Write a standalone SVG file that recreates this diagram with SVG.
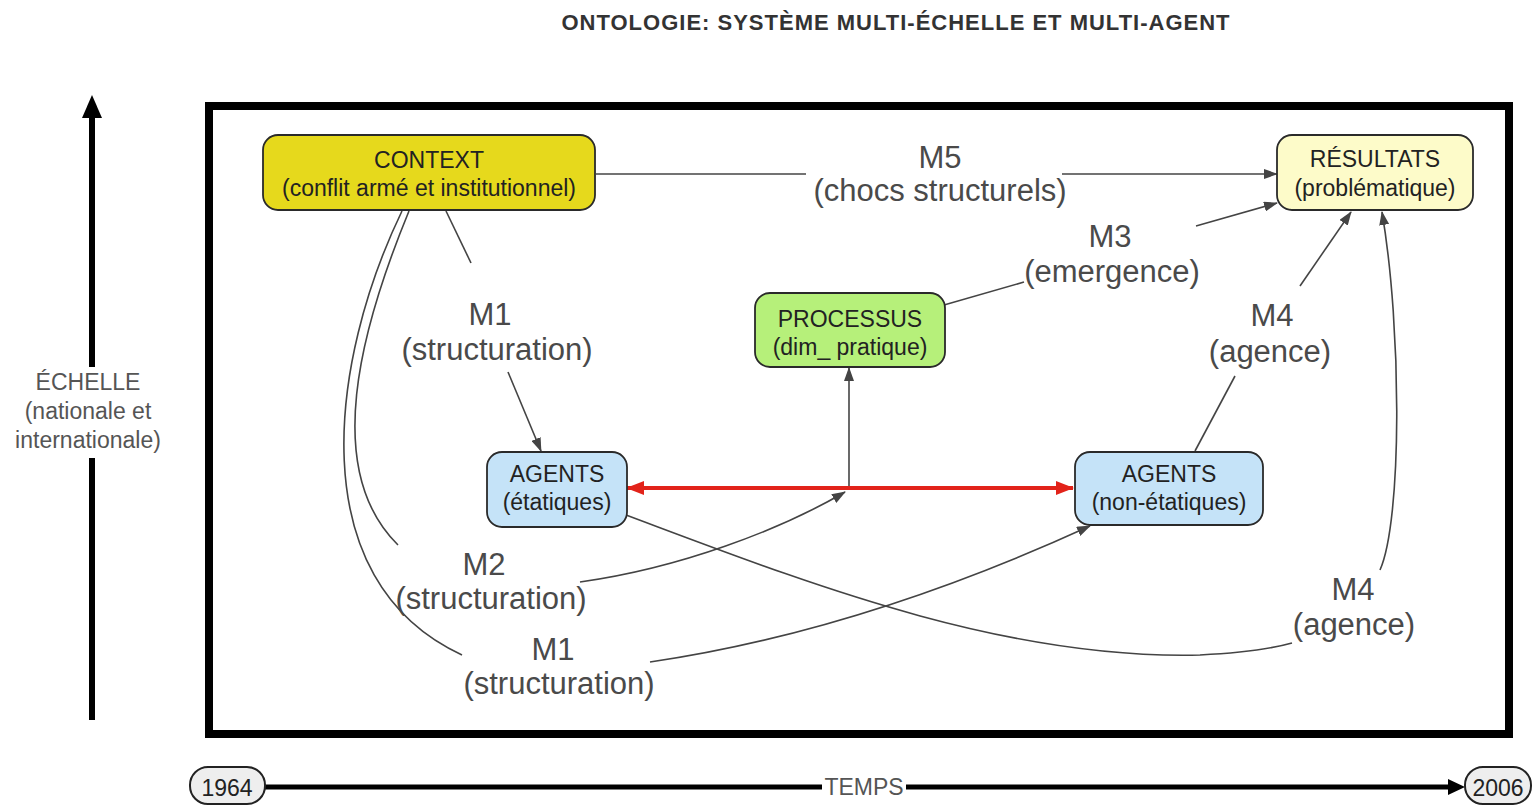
<svg xmlns="http://www.w3.org/2000/svg" width="1534" height="809" viewBox="0 0 1534 809">
<defs>
<style>
.node{stroke:#2a2a2a;stroke-width:1.8}
.nt{font-family:"Liberation Sans",Arial,sans-serif;font-size:23px;fill:#222;text-anchor:middle}
.el{font-family:"Liberation Sans",Arial,sans-serif;font-size:31px;fill:#4a4a4a;text-anchor:middle}
.ax{font-family:"Liberation Sans",Arial,sans-serif;font-size:23px;fill:#555;text-anchor:middle}
.c{fill:none;stroke:#444;stroke-width:1.6}
.pill{fill:#eeeeee;stroke:#222;stroke-width:2}
</style>
<marker id="ah" viewBox="0 0 14 10" refX="13" refY="5" markerWidth="14" markerHeight="10" markerUnits="userSpaceOnUse" orient="auto">
<path d="M0,0 L14,5 L0,10 z" fill="#444"/>
</marker>
<marker id="rh" viewBox="0 0 18 14" refX="17" refY="7" markerWidth="18" markerHeight="14" markerUnits="userSpaceOnUse" orient="auto-start-reverse">
<path d="M0,0 L18,7 L0,14 z" fill="#e2231a"/>
</marker>
</defs>
<rect width="1534" height="809" fill="#ffffff"/>

<text x="896" y="30" font-family="'Liberation Sans',Arial,sans-serif" font-size="22" font-weight="bold" fill="#333" text-anchor="middle" letter-spacing="1">ONTOLOGIE: SYSTÈME MULTI-ÉCHELLE ET MULTI-AGENT</text>

<g id="frame">
<rect x="209" y="106" width="1300" height="628" fill="none" stroke="#000" stroke-width="8"/>
</g>

<g id="axis-echelle">
<line x1="92" y1="720" x2="92" y2="458" stroke="#000" stroke-width="6"/>
<line x1="92" y1="367" x2="92" y2="115" stroke="#000" stroke-width="6"/>
<path d="M82,118 L92,95 L102,118 z" fill="#000"/>
<text class="ax" x="88" y="390">ÉCHELLE</text>
<text class="ax" x="88" y="419">(nationale et</text>
<text class="ax" x="88" y="448">internationale)</text>
</g>

<g id="axis-temps">
<line x1="265" y1="787" x2="822" y2="787" stroke="#000" stroke-width="5"/>
<line x1="906" y1="787" x2="1450" y2="787" stroke="#000" stroke-width="5"/>
<path d="M1448,779 L1465,787 L1448,795 z" fill="#000"/>
<text class="ax" x="864" y="795">TEMPS</text>
<g id="pill-1964">
<rect class="pill" x="190" y="767" width="75" height="37" rx="18"/>
<text class="ax" x="227" y="796" fill="#222" style="fill:#222">1964</text>
</g>
<g id="pill-2006">
<rect class="pill" x="1465" y="767" width="66" height="37" rx="18"/>
<text class="ax" x="1498" y="796" style="fill:#222">2006</text>
</g>
</g>

<g id="connectors">
<!-- M5 -->
<line class="c" x1="596" y1="174" x2="806" y2="174"/>
<line class="c" x1="1062" y1="174" x2="1277" y2="174" marker-end="url(#ah)"/>
<!-- M1 top -->
<line class="c" x1="446" y1="211" x2="471" y2="263"/>
<line class="c" x1="508" y1="372" x2="541" y2="451" marker-end="url(#ah)"/>
<!-- M3 -->
<line class="c" x1="944" y1="305" x2="1024" y2="282"/>
<line class="c" x1="1196" y1="226" x2="1277" y2="203" marker-end="url(#ah)"/>
<!-- M4 upper -->
<line class="c" x1="1195" y1="451" x2="1235" y2="376"/>
<line class="c" x1="1300" y1="286" x2="1351" y2="212" marker-end="url(#ah)"/>
<!-- vertical to PROCESSUS -->
<line class="c" x1="849" y1="488" x2="849" y2="368" marker-end="url(#ah)"/>
<!-- M2 -->
<path class="c" d="M409,211 C360,330 322,470 398,545"/>
<path class="c" d="M580,582 C680,568 780,530 845,492" marker-end="url(#ah)"/>
<!-- M1 lower -->
<path class="c" d="M402,211 C330,360 300,580 462,655"/>
<path class="c" d="M650,662 C800,640 950,590 1090,526" marker-end="url(#ah)"/>
<!-- M4 lower -->
<path class="c" d="M626,515 C800,580 1000,660 1200,655 Q1260,652 1292,643"/>
<path class="c" d="M1380,570 C1402,520 1402,330 1382,212" marker-end="url(#ah)"/>
<!-- red double arrow -->
<line x1="627" y1="488" x2="1073" y2="488" stroke="#e2231a" stroke-width="4" marker-start="url(#rh)" marker-end="url(#rh)"/>
</g>

<g id="edge-labels">
<text class="el" x="940" y="168">M5</text>
<text class="el" x="940" y="201">(chocs structurels)</text>
<text class="el" x="490" y="325">M1</text>
<text class="el" x="497" y="360">(structuration)</text>
<text class="el" x="1110" y="247">M3</text>
<text class="el" x="1112" y="282">(emergence)</text>
<text class="el" x="1272" y="326">M4</text>
<text class="el" x="1270" y="362">(agence)</text>
<text class="el" x="484" y="575">M2</text>
<text class="el" x="491" y="609">(structuration)</text>
<text class="el" x="553" y="660">M1</text>
<text class="el" x="559" y="694">(structuration)</text>
<text class="el" x="1353" y="600">M4</text>
<text class="el" x="1354" y="635">(agence)</text>
</g>

<g id="node-context">
<rect class="node" x="263" y="135" width="332" height="75" rx="15" fill="#e6d91c"/>
<text class="nt" x="429" y="168">CONTEXT</text>
<text class="nt" x="429" y="196">(conflit armé et institutionnel)</text>
</g>
<g id="node-resultats">
<rect class="node" x="1277" y="135" width="196" height="75" rx="15" fill="#fdfbc9"/>
<text class="nt" x="1375" y="167">RÉSULTATS</text>
<text class="nt" x="1375" y="196">(problématique)</text>
</g>
<g id="node-processus">
<rect class="node" x="755" y="293" width="190" height="74" rx="15" fill="#b6f07a"/>
<text class="nt" x="850" y="327">PROCESSUS</text>
<text class="nt" x="850" y="355">(dim_ pratique)</text>
</g>
<g id="node-agents-etatiques">
<rect class="node" x="487" y="452" width="140" height="75" rx="15" fill="#c5e3f8"/>
<text class="nt" x="557" y="482">AGENTS</text>
<text class="nt" x="557" y="510">(étatiques)</text>
</g>
<g id="node-agents-non-etatiques">
<rect class="node" x="1075" y="452" width="188" height="73" rx="15" fill="#c5e3f8"/>
<text class="nt" x="1169" y="482">AGENTS</text>
<text class="nt" x="1169" y="510">(non-étatiques)</text>
</g>
</svg>
